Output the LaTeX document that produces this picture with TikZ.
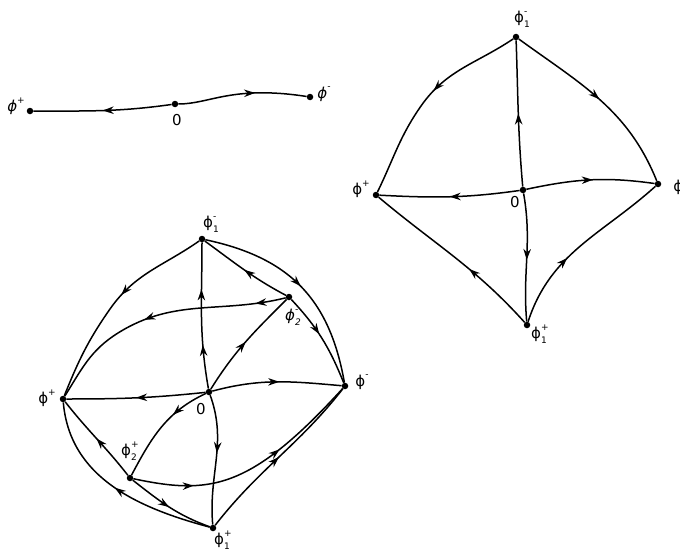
\documentclass[tikz,border=0pt]{standalone}
\usepackage{fontspec}
\setmainfont{DejaVu Sans}
\usetikzlibrary{arrows.meta,decorations.markings}
\newcommand{\phl}[2]{ϕ\makebox[0pt][l]{\raisebox{1.0ex}{\fontsize{9}{9}\selectfont#1}}\raisebox{-0.6ex}{\fontsize{9}{9}\selectfont#2}}
\newcommand{\phs}[1]{ϕ\raisebox{1.0ex}{\fontsize{9}{9}\selectfont#1}}
\begin{document}
\begin{tikzpicture}[x=1pt,y=1pt,
  vtx/.style={circle,fill,inner sep=0pt,minimum size=6.5pt},
  lab/.style={font=\fontsize{15}{17}\selectfont,inner sep=0pt},
  ilab/.style={font=\fontsize{15}{17}\selectfont\itshape,inner sep=0pt},
  ln/.style={line width=1.5pt},
  marr/.style={postaction={decorate},decoration={markings,mark=at position #1 with {\arrow{Stealth[length=11pt,width=7.5pt]}}}},
  marrr/.style 2 args={postaction={decorate},decoration={markings,mark=at position #1 with {\arrow{Stealth[length=11pt,width=7.5pt]}},mark=at position #2 with {\arrow{Stealth[length=11pt,width=7.5pt]}}}}]
\useasboundingbox (0,-551) rectangle (680,0);

% ---------- top-left line ----------
\node[vtx] (A0) at (175,-104) {};
\node[vtx] (Ap) at (30,-111) {};
\node[vtx] (Am) at (310,-97) {};
\node[ilab] (lAp) at (16,-106) {\phs{+}};
\node[lab] (lA0) at (177,-120) {0};
\node[ilab] (lAm) at (324,-94) {\phs{-}};
\draw[ln,marr=0.5] (A0) to[out=188,in=0] (Ap);
\draw[ln,marr=0.6] (A0) .. controls (210,-104) and (232,-85) .. (Am);

% ---------- top-right diagram ----------
\node[vtx] (T1m) at (516,-37) {};
\node[vtx] (Tp) at (376,-195) {};
\node[vtx] (T0) at (523,-190) {};
\node[vtx] (Tm) at (658,-184) {};
\node[vtx] (T1p) at (527,-325) {};
\coordinate (kT) at (421,-106);
\node[lab] (lT1m) at (522,-19) {\phl{-}{1}};
\node[lab] (lTp) at (361,-189) {\phs{+}};
\node[lab] (lT0) at (515,-202) {0};
\node[lab] (lTm) at (680,-187) {\phs{-}};
\node[lab] (lT1p) at (539,-334) {\phl{+}{1}};
\draw[ln,marr=0.45] (T1m) to[out=214,in=55] (kT) to[out=235,in=64] (Tp);
\draw[ln,marr=0.5] (T1m) to[out=-36,in=112] (Tm);
\draw[ln,marr=0.5] (T0) to[out=95,in=-88] (T1m);
\draw[ln,marr=0.5] (T0) to[out=188,in=-3] (Tp);
\draw[ln,marr=0.52] (T0) to[out=12,in=172] (Tm);
\draw[ln,marr=0.52] (T0) to[out=-80,in=95] (T1p);
\draw[ln,marr=0.4] (T1p) to[out=132,in=-40] (Tp);
\draw[ln,marr=0.4] (T1p) to[out=72,in=-138] (Tm);

% ---------- bottom diagram ----------
\node[vtx] (B1m) at (202,-239) {};
\node[vtx] (B2m) at (289,-297) {};
\node[vtx] (Bm) at (345,-386) {};
\node[vtx] (B0) at (209,-392) {};
\node[vtx] (Bp) at (63,-399) {};
\node[vtx] (B2p) at (130,-478) {};
\node[vtx] (B1p) at (213,-528) {};
\coordinate (kB1) at (110,-309);
\coordinate (kB2) at (118,-333);
\node[lab] (lB1m) at (211,-224) {\phl{-}{1}};
\node[ilab] (lB2m) at (293,-317) {\phl{-}{2}};
\node[lab] (lBm) at (362,-382) {\phs{-}};
\node[lab] (lB0) at (201,-409) {0};
\node[lab] (lBp) at (47,-398) {\phs{+}};
\node[lab] (lB2p) at (129,-451) {\phl{+}{2}};
\node[lab] (lB1p) at (222,-540) {\phl{+}{1}};

\draw[ln,marr=0.45] (B1m) to[out=215,in=55] (kB1) to[out=235,in=68] (Bp);
\draw[ln,marrr={0.12}{0.56}] (B2m) to[out=194,in=32] (kB2) to[out=212,in=58] (Bp);
\draw[ln,marrr={0.3}{0.68}] (B0) to[out=100,in=-90] (B1m);
\draw[ln,marr=0.5] (B2m) to[out=152,in=-36] (B1m);
\draw[ln,marr=0.5] (B1m) to[out=-12,in=100,looseness=1.1] (Bm);
\draw[ln,marr=0.45] (B2m) to[out=-47,in=112] (Bm);
\draw[ln,marr=0.5] (B0) to[out=58,in=225] (B2m);
\draw[ln,marr=0.52] (B0) to[out=15,in=175] (Bm);
\draw[ln,marr=0.5] (B0) to[out=186,in=0] (Bp);
\draw[ln,marr=0.35] (B0) to[out=205,in=62] (B2p);
\draw[ln,marr=0.45] (B0) to[out=-70,in=95] (B1p);
\draw[ln,marr=0.5] (B2p) to[out=128,in=-52] (Bp);
\draw[ln,marr=0.5] (B1p) to[out=165,in=-85] (Bp);
\draw[ln,marr=0.5] (B2p) to[out=-38,in=160] (B1p);
\draw[ln,marrr={0.25}{0.64}] (B2p) .. controls (210,-495) and (250,-490) .. (Bm);
\draw[ln,marr=0.5] (B1p) to[out=52,in=232] (Bm);
\end{tikzpicture}
\end{document}
